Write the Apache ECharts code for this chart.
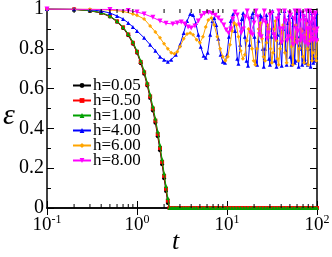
<!DOCTYPE html>
<html><head><meta charset="utf-8">
<script src="https://cdn.jsdelivr.net/npm/echarts@6/dist/echarts.min.js"></script>
<style>html,body{margin:0;padding:0;background:#fff}#c{width:332px;height:257px}</style>
</head><body><div id="c"></div>
<script>
const names = ['h=0.05','h=0.50','h=1.00','h=4.00','h=6.00','h=8.00'];
const colors = ['#000000','#ff0000','#00a000','#0000ff','#ffa500','#ff00ff'];
const symbols = ['circle','rect','triangle','triangle','diamond','path://M0,0L10,0L5,10Z'];
const yTicks = [0, 0.2, 0.4, 0.6, 0.8, 1];
const xTickExp = ['-1','0','1','2'];
const logMinorTicks = [0.2,0.3,0.4,0.5,0.6,0.7,0.8,0.9,2,3,4,5,6,7,8,9,20,30,40,50,60,70,80,90];

const tDecay = [0.1,0.2,0.3,0.4,0.5,0.6,0.7,0.8,0.9,1.0,1.1,1.2,1.3,1.4,1.5,1.6,1.7,1.8,1.9,2.0,2.1,2.2,2.3];
const e005 = [1.0,0.998,0.991,0.98,0.962,0.936,0.905,0.868,0.826,0.78,0.728,0.675,0.615,0.553,0.49,0.428,0.36,0.29,0.22,0.15,0.085,0.025,0];
const e050 = [1.0,0.998,0.992,0.981,0.964,0.938,0.908,0.872,0.83,0.785,0.734,0.682,0.622,0.561,0.5,0.439,0.372,0.302,0.232,0.162,0.097,0.037,0];
const e100 = [1.0,0.998,0.992,0.982,0.965,0.94,0.91,0.875,0.835,0.79,0.74,0.69,0.63,0.57,0.51,0.45,0.385,0.315,0.245,0.175,0.11,0.05,0];
// times after the collapse, where all three curves read zero
const tZero = [2.4,2.5,2.6,2.7,2.8,2.9,3.0,3.2,3.4,3.6,3.8,4.0,4.3,4.6,5.0,5.4,5.8,6.2,6.7,7.2,7.8,8.4,9.0,9.7,10.5,11.3,12.2,13.2,
  14.2,15.3,16.5,17.8,19.2,20.7,22.3,24,26,28,30,32.5,35,37.5,40.5,43.5,47,50.5,54.5,58.5,63,68,73,78.5,84.5,91,95.5,100];
const eZero = tZero.map(() => 0);

const h4 = [[0.1,1.0],[0.2,0.999],[0.3,0.996],[0.4,0.99],[0.5,0.98],[0.6,0.965],[0.7,0.95],[0.8,0.93],[0.9,0.91],[1.0,0.89],
  [1.2,0.855],[1.4,0.82],[1.6,0.79],[1.8,0.76],[2.0,0.745],[2.2,0.735],[2.4,0.745],[2.7,0.77],[3.0,0.82],[3.3,0.88],[3.6,0.94],
  [3.9,0.975],[4.2,0.97],[4.5,0.93],[4.8,0.87],[5.1,0.81],[5.5,0.765],[5.8,0.755],[6.1,0.78],[6.5,0.87],[6.9,0.94],[7.2,0.955],
  [7.6,0.92],[8.0,0.85],[8.5,0.77],[9.0,0.735],[9.5,0.73],[10,0.77],[10.5,0.86],[11,0.94],[11.7,0.975],[12.3,0.89],[13.0,0.75],
  [13.4,0.725],[14,0.82],[14.6,0.95],[15.1,0.98],[15.8,0.86],[16.5,0.74],[17.1,0.715],[17.8,0.82],[18.6,0.96],[19.4,0.98],
  [20.2,0.86],[21,0.74],[21.6,0.72],[22.4,0.84],[23.4,0.97],[24.2,0.96],[25,0.8],[25.6,0.71],[26.5,0.8],[27.4,0.97],[28.3,0.92],
  [29.3,0.75],[30,0.72],[31,0.86],[32,0.99],[33,0.88],[34,0.74],[35.5,0.71],[36.5,0.87],[37.8,0.98],[39,0.83],[40.5,0.715],
  [42,0.9],[43.5,0.99],[45,0.79],[46,0.72],[47.5,0.93],[49,0.97],[50.5,0.76],[52,0.72],[53.5,0.96],[55,0.92],[56.5,0.73],
  [58,0.74],[59.5,0.98],[61,0.86],[62.5,0.71],[64,0.82],[65.5,0.99],[67,0.8],[68.5,0.72],[70,0.9],[71.5,0.97],[73,0.75],
  [74.5,0.73],[76,0.95],[77.5,0.94],[79,0.72],[80.5,0.8],[82,0.99],[83.5,0.83],[85,0.71],[86.5,0.86],[88,0.98],[89.5,0.77],
  [91,0.73],[92.5,0.93],[94,0.96],[95.5,0.74],[97,0.76],[98.5,0.98],[100,0.85]];

const h6 = [[0.1,1.0],[0.3,0.999],[0.5,0.995],[0.7,0.988],[0.9,0.975],[1.0,0.968],[1.2,0.95],[1.4,0.915],[1.6,0.885],[1.8,0.855],
  [2.0,0.825],[2.2,0.8],[2.4,0.78],[2.6,0.775],[2.8,0.785],[3.0,0.81],[3.3,0.85],[3.6,0.875],[3.9,0.88],[4.2,0.87],[4.6,0.845],
  [5.0,0.83],[5.4,0.86],[5.8,0.91],[6.2,0.945],[6.7,0.955],[7.2,0.92],[7.8,0.86],[8.4,0.8],[9.0,0.76],[9.6,0.74],[10.2,0.76],
  [10.8,0.82],[11.4,0.89],[12,0.93],[12.7,0.92],[13.4,0.86],[14.2,0.79],[15,0.75],[15.8,0.77],[16.6,0.84],[17.4,0.9],[18.2,0.88],
  [19,0.8],[19.8,0.74],[20.6,0.72],[21.5,0.8],[22.5,0.9],[23.5,0.93],[24.5,0.85],[25.5,0.76],[26.5,0.74],[27.5,0.83],[28.5,0.92],
  [29.5,0.9],[30.5,0.8],[31.5,0.73],[32.5,0.78],[33.5,0.9],[34.5,0.94],[35.5,0.84],[36.5,0.75],[37.5,0.72],[38.8,0.8],[40,0.88],
  [42,0.92],[44,0.78],[46,0.73],[48,0.86],[50,0.93],[52,0.81],[54,0.72],[56,0.83],[58,0.92],[60,0.85],[62,0.74],[64,0.8],
  [66,0.9],[68,0.89],[70,0.76],[72,0.73],[74,0.87],[76,0.93],[78,0.8],[80,0.72],[82,0.84],[84,0.91],[86,0.86],[88,0.74],
  [90,0.78],[92,0.9],[94,0.9],[96,0.76],[98,0.74],[100,0.84]];

const h8 = [[0.1,1.0],[0.5,0.998],[0.8,0.993],[1.0,0.985],[1.2,0.975],[1.5,0.958],[1.8,0.94],[2.1,0.928],[2.5,0.925],[2.8,0.93],
  [3.1,0.935],[3.4,0.925],[3.7,0.91],[4.0,0.905],[4.4,0.915],[4.8,0.94],[5.2,0.965],[5.6,0.978],[6.2,0.982],[6.8,0.978],
  [7.4,0.968],[8.0,0.955],[8.6,0.94],[9.2,0.92],[9.8,0.895],[10.4,0.88],[11,0.9],[11.6,0.95],[12.3,0.985],[13,0.97],[13.7,0.92],
  [14.4,0.88],[15.2,0.9],[16,0.96],[16.8,0.99],[17.6,0.95],[18.4,0.88],[19.2,0.87],[20,0.93],[21,0.99],[22,0.96],[23,0.87],
  [24,0.86],[25,0.94],[26,0.99],[27,0.93],[28,0.85],[29,0.88],[30,0.97],[31.5,0.98],[33,0.87],[34.5,0.85],[36,0.95],[37.5,0.99],
  [39,0.9],[40.5,0.83],[42,0.9],[43.5,0.99],[45,0.94],[46.5,0.84],[48,0.86],[49.5,0.98],[51,0.97],[52.5,0.85],[54,0.82],
  [55.5,0.95],[57,0.99],[58.5,0.9],[60,0.83],[61.5,0.89],[63,0.99],[64.5,0.94],[66,0.84],[67.5,0.86],[69,0.98],[70.5,0.96],
  [72,0.85],[73.5,0.83],[75,0.94],[76.5,0.99],[78,0.9],[79.5,0.82],[81,0.9],[82.5,0.99],[84,0.93],[85.5,0.84],[87,0.87],
  [88.5,0.98],[90,0.95],[91.5,0.84],[93,0.85],[94.5,0.97],[96,0.98],[97.5,0.88],[99,0.84],[100,0.9]];

const serif = '"Liberation Serif", "DejaVu Serif", serif';
const chart = echarts.init(document.getElementById('c'), null, {renderer: 'canvas'});

function zip(ts, es) { return ts.map((t, i) => [t, es[i]]); }
const tail = zip(tZero, eZero);
const allData = [zip(tDecay, e005).concat(tail), zip(tDecay, e050).concat(tail), zip(tDecay, e100).concat(tail), h4, h6, h8];

const series = allData.map((d, i) => ({
  name: names[i], type: 'line', data: d, xAxisIndex: 0, yAxisIndex: 0,
  symbol: symbols[i], symbolSize: i === 5 ? 5 : 4, showSymbol: true,
  lineStyle: {color: colors[i], width: 1}, itemStyle: {color: colors[i]},
  animation: false, z: 3 + i
}));
series.push({
  type: 'custom', xAxisIndex: 0, yAxisIndex: 0, silent: true, clip: false, z: 20,
  data: logMinorTicks.map(v => [v]),
  renderItem: function (params, api) {
    const v = api.value(0);
    const b = api.coord([v, 0]);
    const t = api.coord([v, 1]);
    const st = {stroke: '#000', lineWidth: 1};
    return {type: 'group', children: [
      {type: 'line', shape: {x1: b[0], y1: b[1], x2: b[0], y2: b[1] - 4}, style: st},
      {type: 'line', shape: {x1: t[0], y1: t[1], x2: t[0], y2: t[1] + 4}, style: st}
    ]};
  }
});

const xLabelFmt = v => {
  const e = Math.round(Math.log10(v));
  return '{b|10}{s|' + (e < 0 ? '-' : '') + Math.abs(e) + '}';
};

chart.setOption({
  animation: false,
  grid: {left: 47, right: 15, top: 9, bottom: 49, outerBoundsMode: 'none'},
  legend: {
    orient: 'vertical', left: 67, top: 72, itemGap: -2, itemWidth: 18, itemHeight: 6,
    textStyle: {fontFamily: serif, fontSize: 17, color: '#000', lineHeight: 13, padding: [0, 0, 0, -3]},
    data: names
  },
  xAxis: [{
    type: 'log', logBase: 10, min: 0.1, max: 100,
    axisLine: {lineStyle: {color: '#000', width: 1.5}},
    axisTick: {inside: true, length: 7, lineStyle: {color: '#000'}},
    splitLine: {show: false},
    axisLabel: {margin: 6, formatter: xLabelFmt, color: '#000',
      rich: {b: {fontFamily: serif, fontSize: 19, color: '#000'},
             s: {fontFamily: serif, fontSize: 12, color: '#000', padding: [0, 0, 10, 0]}}},
  }, {
    type: 'log', logBase: 10, min: 0.1, max: 100, position: 'top',
    axisLine: {lineStyle: {color: '#000', width: 1.5}},
    axisTick: {inside: true, length: 7, lineStyle: {color: '#000'}},
    axisLabel: {show: false}, splitLine: {show: false}
  }],
  yAxis: [{
    type: 'value', min: 0, max: 1, interval: 0.2,
    axisLine: {show: true, lineStyle: {color: '#000', width: 1.5}},
    axisTick: {show: true, inside: true, length: 7, lineStyle: {color: '#000'}},
    minorTick: {show: true, splitNumber: 2, length: 4, lineStyle: {color: '#000'}},
    splitLine: {show: false},
    axisLabel: {margin: 3, fontFamily: serif, fontSize: 20, color: '#000',
      formatter: v => String(Math.round(v * 10) / 10)}
  }, {
    type: 'value', min: 0, max: 1, interval: 0.2, position: 'right',
    axisLine: {show: true, lineStyle: {color: '#000', width: 1.5}},
    axisTick: {show: true, inside: true, length: 7, lineStyle: {color: '#000'}},
    minorTick: {show: true, splitNumber: 2, length: 4, lineStyle: {color: '#000'}},
    splitLine: {show: false}, axisLabel: {show: false}
  }],
  graphic: [
    {type: 'text', left: 3, top: 101, style: {text: 'ε', fontFamily: serif, fontStyle: 'italic', fontSize: 30, fill: '#000'}},
    {type: 'text', left: 172, top: 229, style: {text: 't', fontFamily: serif, fontStyle: 'italic', fontSize: 26, fill: '#000'}}
  ],
  series: series
});
</script></body></html>
